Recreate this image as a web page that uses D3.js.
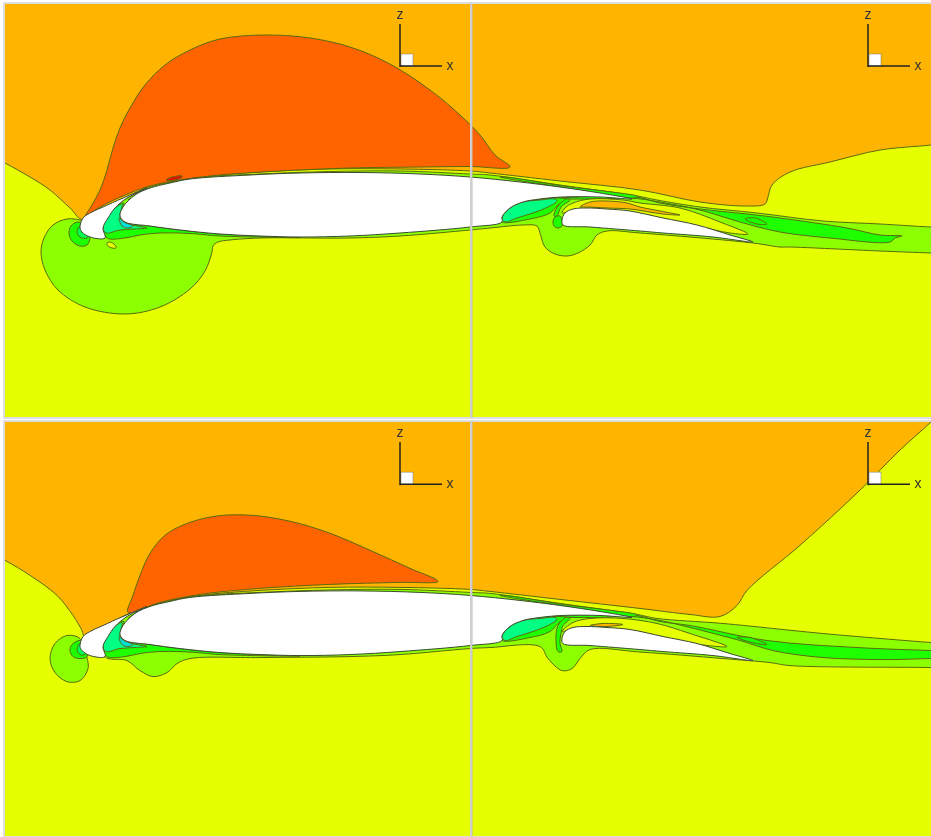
<!DOCTYPE html>
<html>
<head>
<meta charset="utf-8">
<script src="https://cdn.jsdelivr.net/npm/d3@7"></script>
<style>
  body { margin: 0; background: #fff; }
  svg { display: block; }
  .plots { filter: blur(0.5px); }
</style>
</head>
<body>
<div id="chart"></div>
<script>
// contour outlines, as [x, z] in frame units of the upper plot

// bodies, same in both plots
const slat = [[80,228],[83,218],[92,212],[103,207],[123,198],[147,188],[127,198],[115,208],[108,218],[103,228],[105,238],[90,237],[82,232]];
const mainElement = [[120,216],[123,207],[135,195],[150,188],[170,183],[190,179],[250,175],[300,173],[360,172.5],[420,174],[470,177],[520,182],[560,187],[600,193],[632,199],[600,197],[562,197],[540,199],[523,202],[510,208],[502,217],[502,222],[470,227],[400,233],[350,236],[300,237],[260,236],[220,234],[180,230],[150,226],[125,222]];
const flap = [[562,220],[565,213],[573,209],[587,208],[607,209],[630,211],[663,218],[697,225],[730,235],[753,242],[713,237],[663,233],[640,231],[590,227],[563,225]];

// slat cove and main element cove
const slatCoveGreen = [[103,228],[108,216],[118,205],[124,203],[123,207],[120,216],[125,222],[150,226],[180,230],[220,234],[300,237.5],[220,236],[190,233.5],[160,233],[140,235],[125,238],[107,238]];
const slatCoveMint = [[103,228],[108,216],[115,208],[122,204],[120,216],[122,222],[137,226],[147,228],[135,229],[120,230],[106,233]];
const slatCoveCyan = [[119,218],[124,222],[133,226],[128,228],[122,226]];
const slatCoveYellow = [[128,200],[140,192],[147,189],[136,195]];
const mainCoveGreen = [[502,222],[530,219],[550,213],[558,205],[565,199],[555,198],[540,199],[510,208],[502,217]];
const mainCoveMint = [[502,218],[510,208],[523,202],[540,200],[555,199],[557,201],[548,207],[533,213],[517,218],[505,222]];
const topStripGreen = [[500,177],[560,187],[632,198],[638,196.5],[560,185.5],[510,177.5]];

// upper plot
const yellowEdgeTop = [[-20,150],[5,163],[30,177],[50,190],[70,208],[83,220],[110,208],[130,197],[150,186],[200,177],[260,172],[330,169],[400,169],[470,171],[490,173],[560,181],[640,190],[700,202],[745,206],[765,204],[768,197],[772,185],[790,172],[830,162],[880,150],[931,145],[960,141],[960,440],[-20,440]];
const redTop = [[85,217],[92,205],[100,190],[107,170],[113,148],[120,128],[130,108],[145,85],[165,65],[190,50],[220,39],[265,35],[310,38],[350,47],[390,64],[430,90],[460,115],[480,135],[495,155],[510,167],[470,166.5],[420,167],[350,168],[280,171],[220,175],[180,180],[150,186],[125,195],[100,207]];
const hotSpotTop = [[166,180],[172,177],[182,176],[181,178],[172,180.5]];
const limeTop = [[85,222],[80,220],[67,219],[53,225],[44,238],[41,252],[45,270],[58,290],[85,307],[125,314],[160,307],[190,289],[205,271],[212,252],[213,246],[218,242],[230,240],[260,238],[350,238],[400,236],[470,230],[490,228],[523,225],[537,226],[540,233],[545,247],[555,254],[567,256],[578,253],[590,245],[597,235],[607,231],[640,233],[753,243],[780,247],[790,247],[880,251],[931,253],[960,254],[960,228],[931,227],[880,224],[823,221],[757,213],[700,207],[657,200],[637,196],[560,185],[490,175],[470,174],[400,171],[330,171.5],[260,174],[200,177.5],[148,188],[110,208]];
const noseGreenTop = [[78,222],[71,226],[69,233],[72,241],[80,246],[87,245],[90,238],[88,228]];
const noseLeafTop = [[80,226],[77,232],[80,237],[87,238],[88,230]];
const yellowIslandTop = [[107,243],[110,242],[115,245],[116,248],[112,248],[108,246]];
const wakeGreenTop = [[550,199],[600,196],[637,197],[660,203],[700,209],[747,214],[780,218],[847,228],[880,235],[902,236],[895,238],[890,242],[830,238],[780,232],[740,222],[700,210],[660,202],[630,198],[600,199],[570,199]];
const wakeSpotTop = [[745,219],[755,218],[767,224],[757,224]];
const gapYellowTop = [[562,213],[565,208],[573,203],[590,199],[623,200],[640,203],[680,208],[720,222],[748,234],[730,233],[697,226],[663,219],[630,212],[607,210],[587,209],[573,210]];
const gapOrangeTop = [[580,207],[590,202],[607,201],[627,203],[640,207],[660,211],[680,215],[663,214],[630,209],[607,208],[587,207]];
const flapNoseGreenTop = [[553,221],[555,217],[560,216],[562,220],[562,226],[558,228],[554,226]];
const gapStemTop = [[565,199],[558,206],[554,216],[557,216],[561,207],[570,200]];

// lower plot
const yellowEdgeLow = [[-20,130],[5,142],[30,157],[57,177],[73,197],[82,212],[85,219],[110,208],[130,197],[150,186],[200,177],[260,172],[330,169],[400,169],[470,171],[490,173],[560,181],[640,190],[690,196],[720,198],[737,187],[747,172],[800,127],[860,72],[900,32],[931,4],[960,-23],[960,440],[-20,440]];
const redLow = [[128,194],[133,177],[140,157],[150,135],[165,117],[185,106],[215,98],[250,97],[290,103],[330,115],[370,132],[410,150],[438,163],[400,164],[330,166],[260,170],[200,176],[160,184]];
const limeLow = [[105,238],[127,242],[140,252],[153,258],[167,254],[177,245],[190,240],[260,239],[350,238],[400,236],[470,230],[490,229],[540,228],[548,240],[562,252],[572,250],[580,240],[590,231],[640,233.5],[723,240],[770,244],[790,247],[931,249],[960,250],[960,226],[931,224],[823,215],[723,205],[657,200],[637,196],[560,185],[490,175],[470,174],[400,171],[330,171.5],[260,174],[200,177.5],[148,188],[110,208]];
const limeBlobLow = [[80,220],[67,217],[55,225],[50,240],[55,254],[67,263],[80,262],[88,250],[87,239]];
const noseGreenLow = [[80,222],[72,226],[70,232],[73,238],[80,240],[87,238],[88,228]];
const noseLeafLow = [[80,225],[77,231],[80,236],[85,236],[87,230]];
const wakeGreenLow = [[550,199],[600,196],[637,197],[660,203],[690,207],[767,222],[857,229],[931,232],[960,233],[960,241],[931,240],[890,241],[823,239],[773,232],[740,222],[690,209],[660,202],[630,198],[600,199],[570,199]];
const wakeSpotLow = [[737,219],[750,219],[767,226],[752,224]];
const gapYellowLow = [[562,213],[573,204],[590,200],[623,200],[657,205],[690,215],[727,228],[700,226],[663,219],[630,212],[607,210],[587,209],[573,210]];
const gapOrangeLow = [[590,207],[603,205],[623,206],[607,208]];
const gapStemLow = [[565,199],[558,207],[556,218],[558,233],[562,233],[560,225],[561,215],[563,207],[570,200]];

// axis triads, one in each sub plot
const triadOrigins = [[400,66],[868,66]];
const triadLabels = ["x","z"];

const levels = {
  hot: "#e01400",
  red: "#ff6400",
  orange: "#ffb400",
  yellow: "#e6ff00",
  lime: "#8cff00",
  green: "#1eff00",
  leaf: "#00ff50",
  mint: "#00ff82",
  cyan: "#00e0d8",
  body: "#ffffff"
};

const width = 931, height = 837;

const x = d3.scaleLinear().domain([5, 931]).range([5, 931]);
const zTop = d3.scaleLinear().domain([4, 417]).range([4, 417]);
const zLow = d3.scaleLinear().domain([4, 417]).range([422, 836]);

const upperLayers = [
  ["yellow", yellowEdgeTop], ["lime", limeTop], ["red", redTop], ["hot", hotSpotTop],
  ["green", noseGreenTop], ["leaf", noseLeafTop], ["yellow", yellowIslandTop],
  ["green", wakeGreenTop], ["green", topStripGreen], ["green", wakeSpotTop],
  ["yellow", gapYellowTop], ["orange", gapOrangeTop],
  ["green", gapStemTop], ["green", flapNoseGreenTop],
  ["green", slatCoveGreen], ["mint", slatCoveMint], ["cyan", slatCoveCyan], ["yellow", slatCoveYellow],
  ["green", mainCoveGreen], ["mint", mainCoveMint],
  ["body", mainElement], ["body", slat], ["body", flap]
];

const lowerLayers = [
  ["yellow", yellowEdgeLow], ["lime", limeLow], ["lime", limeBlobLow], ["red", redLow],
  ["green", noseGreenLow], ["leaf", noseLeafLow],
  ["green", wakeGreenLow], ["green", topStripGreen], ["green", wakeSpotLow],
  ["yellow", gapYellowLow], ["orange", gapOrangeLow],
  ["green", gapStemLow],
  ["green", slatCoveGreen], ["mint", slatCoveMint], ["cyan", slatCoveCyan], ["yellow", slatCoveYellow],
  ["green", mainCoveGreen], ["mint", mainCoveMint],
  ["body", mainElement], ["body", slat], ["body", flap]
];

const svg = d3.select("#chart").append("svg")
  .attr("width", width)
  .attr("height", height)
  .attr("class", "plots")
  .style("background", "#fff");

function drawPlot(name, z, layers) {
  const top = z(4), bottom = z(417);

  svg.append("clipPath").attr("id", "clip-" + name)
    .append("rect")
    .attr("x", x(5)).attr("y", top)
    .attr("width", x(931) - x(5)).attr("height", bottom - top);

  const g = svg.append("g").attr("clip-path", "url(#clip-" + name + ")");

  g.append("rect")
    .attr("x", x(5)).attr("y", top)
    .attr("width", x(931) - x(5)).attr("height", bottom - top)
    .attr("fill", levels.orange);

  const contour = d3.line()
    .x(d => x(d[0]))
    .y(d => z(d[1]))
    .curve(d3.curveCatmullRomClosed.alpha(0.5));

  g.selectAll("path.level")
    .data(layers)
    .enter()
    .append("path")
    .attr("class", "level")
    .attr("d", d => contour(d[1]))
    .attr("fill", d => levels[d[0]])
    .attr("stroke", d => d[0] == "body" ? "#3a4a30" : "#5a6a10")
    .attr("stroke-width", 1)
    .attr("stroke-linejoin", "round");

  // axis triads
  triadOrigins.forEach(o => {
    g.append("rect")
      .attr("x", x(o[0] + 1)).attr("y", z(o[1] - 12))
      .attr("width", x(o[0] + 13) - x(o[0] + 1))
      .attr("height", z(o[1]) - z(o[1] - 12))
      .attr("fill", "#fff")
      .attr("stroke", "#777")
      .attr("stroke-width", 0.5);
    g.append("line")
      .attr("x1", x(o[0])).attr("x2", x(o[0] + 42))
      .attr("y1", z(o[1])).attr("y2", z(o[1]))
      .attr("stroke", "#222").attr("stroke-width", 1.5);
    g.append("line")
      .attr("x1", x(o[0])).attr("x2", x(o[0]))
      .attr("y1", z(o[1] + 1)).attr("y2", z(o[1] - 42))
      .attr("stroke", "#222").attr("stroke-width", 1.5);
    g.append("text")
      .attr("x", x(o[0] + 50)).attr("y", z(o[1] + 4))
      .attr("text-anchor", "middle")
      .style("font", "14px 'Liberation Sans', sans-serif")
      .attr("fill", "#333")
      .text(triadLabels[0]);
    g.append("text")
      .attr("x", x(o[0])).attr("y", z(o[1] - 47))
      .attr("text-anchor", "middle")
      .style("font", "14px 'Liberation Sans', sans-serif")
      .attr("fill", "#333")
      .text(triadLabels[1]);
  });

  // frame of the two sub plots
  svg.append("rect")
    .attr("x", x(5) - 1).attr("y", top - 1)
    .attr("width", x(470) - x(5) + 2).attr("height", bottom - top + 2)
    .attr("fill", "none").attr("stroke", "#bdbdbd").attr("stroke-width", 1);
  svg.append("rect")
    .attr("x", x(472)).attr("y", top - 1)
    .attr("width", x(931) - x(472) + 2).attr("height", bottom - top + 2)
    .attr("fill", "none").attr("stroke", "#bdbdbd").attr("stroke-width", 1);
  svg.append("rect")
    .attr("x", x(470)).attr("y", top - 1)
    .attr("width", 2).attr("height", bottom - top + 2)
    .attr("fill", "#cfcfcf");
}

drawPlot("top", zTop, upperLayers);
drawPlot("low", zLow, lowerLayers);
</script>
</body>
</html>
